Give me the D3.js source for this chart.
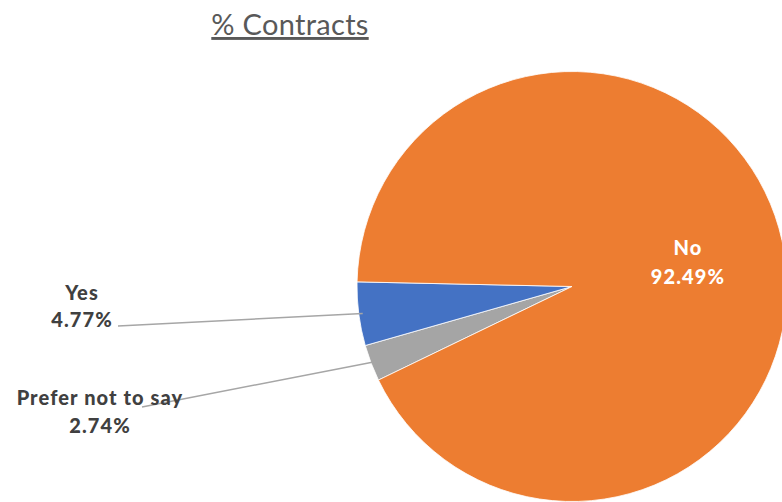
<!DOCTYPE html>
<html><head><meta charset="utf-8">
<script src="https://cdn.jsdelivr.net/npm/d3@7"></script>
<style>body{margin:0;background:#fff}svg{display:block}</style>
</head><body>
<script>
const categories = ["Prefer not to say", "Yes", "No"];
const values = [2.74, 4.77, 92.49];
const labels = ["2.74%", "4.77%", "92.49%"];
const colors = ["#a5a5a5", "#4472c4", "#ed7d31"];

const W = 782, H = 502;
const cx = 572, cy = 286.5, R = 215;
const svg = d3.select("body").append("svg").attr("width", W).attr("height", H);
const font = "Lato, 'Open Sans', sans-serif";

svg.append("text").attr("x", 290).attr("y", 35).attr("text-anchor", "middle")
  .attr("font-family", font).attr("font-size", 29).attr("fill", "#595959")
  .attr("letter-spacing", 0.3)
  .attr("text-decoration", "underline").text("% Contracts");

const pie = d3.pie().sort(null).value(d => d)
  .startAngle(244.2 * Math.PI / 180).endAngle(244.2 * Math.PI / 180 + 2 * Math.PI);
const arcs = pie(values);
const arc = d3.arc().innerRadius(0).outerRadius(R);
const g = svg.append("g").attr("transform", `translate(${cx},${cy})`);
g.selectAll("path").data(arcs).join("path")
  .attr("d", arc).attr("fill", (d, i) => colors[i])
  .attr("stroke", "#fff").attr("stroke-width", 0.8);

const leaders = [
  {i: 0, from: [142, 407]},
  {i: 1, from: [118, 326]}
];
leaders.forEach(l => {
  const a = arcs[l.i];
  const mid = (a.startAngle + a.endAngle) / 2;
  const rr = R - 4;
  const px = cx + rr * Math.sin(mid), py = cy - rr * Math.cos(mid);
  svg.append("line").attr("x1", l.from[0]).attr("y1", l.from[1])
    .attr("x2", px).attr("y2", py).attr("stroke", "#a6a6a6").attr("stroke-width", 1.5);
});

const labelPos = [[100, 405, 433], [82, 300, 327], [688, 255, 284]];
const labelColor = ["#404040", "#404040", "#ffffff"];
categories.forEach((c, i) => {
  const t = svg.append("text").attr("text-anchor", "middle")
    .attr("font-family", font).attr("font-weight", 900).attr("font-size", 20)
    .attr("letter-spacing", 1.1)
    .attr("fill", labelColor[i]);
  t.append("tspan").attr("x", labelPos[i][0]).attr("y", labelPos[i][1]).text(c);
  t.append("tspan").attr("x", labelPos[i][0]).attr("y", labelPos[i][2]).text(labels[i]);
});
</script>
</body></html>
